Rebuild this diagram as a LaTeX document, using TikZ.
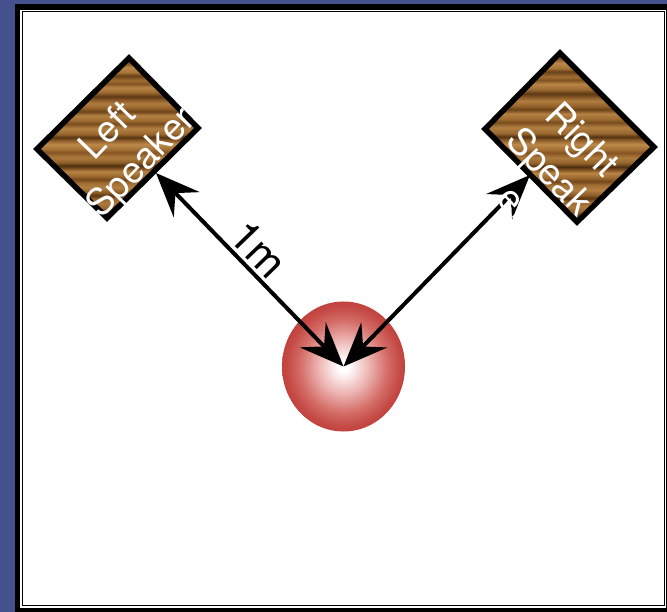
\documentclass[tikz,border=0pt]{standalone}
\usepackage{fontspec}
\setmainfont{TeX Gyre Heros}
\usetikzlibrary{arrows.meta,shapes.geometric}

\definecolor{frameblue}{RGB}{69,80,143}

% horizontal wood grain, stripes laid out between 25bp and 75bp
\pgfdeclareverticalshading{woodgrain}{100bp}{%
  rgb(0bp)=(0.55,0.36,0.16);
  rgb(25bp)=(0.55,0.36,0.16);
  rgb(26bp)=(0.62,0.42,0.19);
  rgb(27.2bp)=(0.40,0.25,0.09);
  rgb(28bp)=(0.58,0.38,0.17);
  rgb(29.5bp)=(0.68,0.48,0.24);
  rgb(31bp)=(0.60,0.40,0.18);
  rgb(32bp)=(0.35,0.21,0.07);
  rgb(33bp)=(0.55,0.36,0.15);
  rgb(34.5bp)=(0.70,0.50,0.26);
  rgb(36bp)=(0.63,0.43,0.20);
  rgb(37bp)=(0.45,0.28,0.10);
  rgb(38.2bp)=(0.62,0.42,0.19);
  rgb(39.5bp)=(0.72,0.52,0.27);
  rgb(40.5bp)=(0.50,0.32,0.13);
  rgb(41.3bp)=(0.30,0.18,0.06);
  rgb(42.5bp)=(0.58,0.39,0.17);
  rgb(44bp)=(0.68,0.48,0.24);
  rgb(45.5bp)=(0.52,0.33,0.14);
  rgb(46.5bp)=(0.64,0.44,0.21);
  rgb(48bp)=(0.74,0.54,0.29);
  rgb(49.3bp)=(0.55,0.36,0.16);
  rgb(50.2bp)=(0.33,0.20,0.07);
  rgb(51.2bp)=(0.60,0.40,0.18);
  rgb(53bp)=(0.70,0.50,0.26);
  rgb(54.5bp)=(0.47,0.30,0.11);
  rgb(55.5bp)=(0.62,0.42,0.19);
  rgb(57bp)=(0.71,0.51,0.27);
  rgb(58.3bp)=(0.42,0.26,0.09);
  rgb(59.2bp)=(0.57,0.37,0.16);
  rgb(60.8bp)=(0.69,0.49,0.25);
  rgb(62bp)=(0.53,0.34,0.15);
  rgb(63bp)=(0.36,0.22,0.08);
  rgb(64.2bp)=(0.61,0.41,0.19);
  rgb(65.8bp)=(0.72,0.52,0.27);
  rgb(67bp)=(0.50,0.32,0.13);
  rgb(68bp)=(0.63,0.43,0.20);
  rgb(69.5bp)=(0.40,0.25,0.09);
  rgb(70.5bp)=(0.66,0.46,0.22);
  rgb(72bp)=(0.73,0.53,0.28);
  rgb(73.5bp)=(0.48,0.30,0.12);
  rgb(75bp)=(0.60,0.40,0.18);
  rgb(100bp)=(0.60,0.40,0.18)}

% listener ball: white core fading to red rim
\pgfdeclareradialshading{redball}{\pgfpoint{0bp}{0bp}}{%
  rgb(0bp)=(1,1,1);
  rgb(2bp)=(1,1,1);
  rgb(10bp)=(0.93,0.72,0.71);
  rgb(18bp)=(0.83,0.42,0.40);
  rgb(23bp)=(0.77,0.29,0.27);
  rgb(25bp)=(0.76,0.26,0.24);
  rgb(50bp)=(0.76,0.26,0.24)}

\begin{document}
\begin{tikzpicture}[x=1pt,y=-1pt,
  speakerbox/.style={draw=black, line width=5.5pt, line join=miter, shade, shading=woodgrain},
  spklabel/.style={text=white, font=\fontsize{37}{46}\selectfont, inner sep=0pt, align=center},
  distline/.style={line width=4pt,
    {Stealth[length=44pt,width=36pt,inset=16pt]}-{Stealth[length=44pt,width=36pt,inset=16pt]}},
]
\useasboundingbox (0,0) rectangle (667,612);

% page background and double frame
\fill[frameblue] (0,0) rectangle (667,612);
\fill[black] (15,4) rectangle (672,617);
\fill[white] (20,9.7) rectangle (666.2,607.7);
\draw[line width=1.3pt] (22.3,11.7) rectangle (664.7,605.8);

% speakers
\draw[speakerbox] (129,58) -- (198,128) -- (107,218) -- (37,149) -- cycle;
\draw[speakerbox] (560,53) -- (654,147) -- (577,222) -- (485,129) -- cycle;

% listener
\node[ellipse, minimum width=123pt, minimum height=130pt, inner sep=0pt,
      shade, shading=redball] (ball) at (343.5,366.5) {};

% distance arrows
\coordinate (ltip) at (156,173);
\coordinate (rtip) at (530,175);
\draw[distline] (ball.center) -- (ltip);
\draw[distline] (ball.center) -- (rtip);

% labels (white text runs past the boxes and shows only on dark ground)
\node[font=\fontsize{43}{43}\selectfont, rotate=-46, inner sep=0pt] (dlabel) at (259,249) {1m};
\node[spklabel, rotate=46] (ltext) at (126,148) {Left\\Speaker};
\node[spklabel, rotate=-46] (rtext) at (550,171) {Right\\Speak\\er};
\end{tikzpicture}
\end{document}
